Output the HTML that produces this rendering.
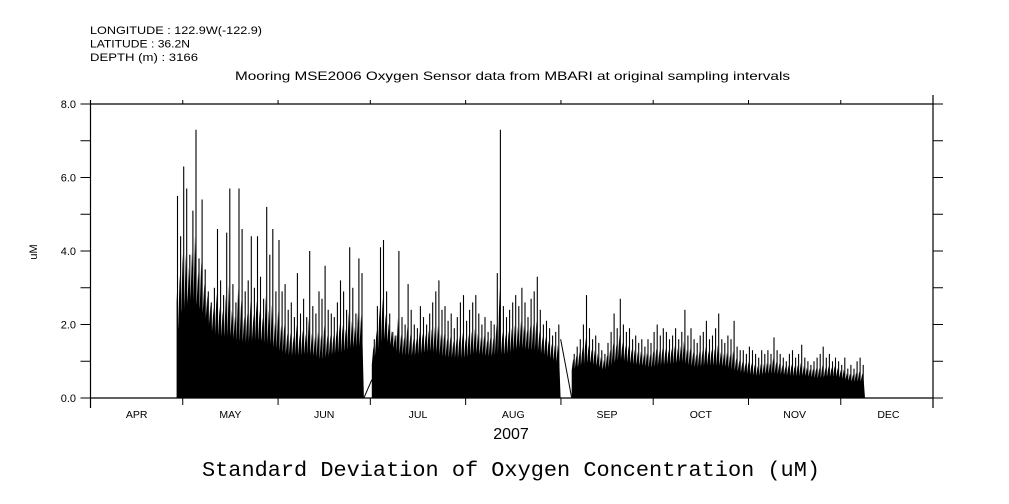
<!DOCTYPE html>
<html><head><meta charset="utf-8"><style>
html,body{margin:0;padding:0;background:#fff;}
svg{display:block;}
text{font-family:"Liberation Sans",sans-serif;fill:#000;}
</style></head><body>
<svg id="chart" width="1009" height="504" viewBox="0 0 1009 504" xmlns="http://www.w3.org/2000/svg">
<rect x="0" y="0" width="1009" height="504" fill="#fff"/>
<g font-size="11">
<text x="90" y="34" textLength="172" lengthAdjust="spacingAndGlyphs">LONGITUDE : 122.9W(-122.9)</text>
<text x="90" y="47.5" textLength="100" lengthAdjust="spacingAndGlyphs">LATITUDE : 36.2N</text>
<text x="90" y="61" textLength="108" lengthAdjust="spacingAndGlyphs">DEPTH (m) : 3166</text>
</g>
<text x="235" y="80" font-size="12" textLength="555" lengthAdjust="spacingAndGlyphs">Mooring MSE2006 Oxygen Sensor data from MBARI at original sampling intervals</text>
<text x="0" y="0" font-size="11" text-anchor="middle" transform="translate(37,252) rotate(-90)">uM</text>
<text x="511" y="439" font-size="16" text-anchor="middle">2007</text>
<text x="511" y="476" font-size="21.5" text-anchor="middle" style="font-family:'Liberation Mono',monospace" textLength="618" lengthAdjust="spacingAndGlyphs">Standard Deviation of Oxygen Concentration (uM)</text>
<g id="plot"></g>
<g id="axes"></g>
</svg>
<script>
// y ticks
const yTicks = [0,1,2,3,4,5,6,7,8];
const yLabels = ["0.0","","2.0","","4.0","","6.0","","8.0"];
// months (day offset from Apr 1)
const monthNames = ["APR","MAY","JUN","JUL","AUG","SEP","OCT","NOV","DEC"];
const monthStarts = [0,30,61,91,122,153,183,214,244,275];
// daily peak values, starting at day 28 (Apr 29); null = gap
const startDay = 28;
const peak = [
5.5,4.4,6.3,
5.7,3.9,5.1,7.3,3.8,5.4,3.5,2.9,2.6,3.0,4.6,3.2,2.8,4.5,5.7,3.1,2.6,5.7,4.6,2.9,3.2,4.4,3.0,4.4,3.3,2.7,5.2,3.9,4.6,2.9,
4.3,2.9,3.1,2.4,2.6,2.2,3.4,2.3,2.7,2.2,4.0,2.5,2.3,2.9,2.7,3.6,2.4,2.3,2.2,2.6,3.2,2.9,2.4,4.1,3.0,2.3,3.8,3.4,null,null,null,
1.6,2.5,4.1,4.3,2.9,2.3,1.8,1.7,4.0,2.2,2.0,3.1,2.4,2.0,1.9,2.5,2.2,2.0,2.3,2.6,2.9,3.2,2.4,2.5,2.1,2.3,1.9,2.2,2.6,2.8,
2.1,2.4,2.6,2.8,2.3,2.0,2.2,1.8,2.1,2.0,3.4,7.3,2.5,2.2,2.4,2.6,2.8,2.5,3.0,2.6,2.2,2.7,2.9,3.3,2.4,2.0,2.1,1.9,1.7,1.8,2.0,
null,null,null,null,
1.2,1.4,1.6,2.0,2.8,1.9,1.6,1.7,1.5,1.3,1.2,1.5,1.8,2.3,1.9,2.7,2.0,1.8,1.9,1.6,1.7,1.5,1.6,1.4,1.6,1.5,
1.8,2.0,1.7,1.9,1.8,1.6,1.7,1.9,1.6,1.8,2.4,1.7,1.9,1.6,1.5,1.7,1.8,2.1,1.6,1.7,1.9,2.3,1.6,1.5,1.7,1.6,2.1,1.4,1.3,1.3,
1.2,1.4,1.3,1.2,1.1,1.3,1.2,1.3,1.2,1.65,1.3,1.2,1.1,1.0,1.2,1.3,1.1,1.2,1.45,1.1,1.0,0.9,1.0,1.1,1.2,1.4,1.1,1.2,1.0,1.1,
1.0,0.9,1.1,0.8,0.9,0.8,1.0,1.1,0.9
];
// dense band envelope (typical upper level)
const bandDays = [28,29,33,37,40,45,50,55,60,65,70,75,80,85,88.9,91.5,95,100,105,110,115,120,125,130,135,140,145,150,152.9,156.5,162,167,172,177,182,187,192,197,202,207,212,217,222,227,232,237,242,247,251.9];
const bandVals = [2.0,3.0,3.6,3.0,2.3,2.2,2.0,2.1,1.8,1.5,1.6,1.4,1.6,1.8,1.9,1.2,2.2,1.6,1.5,1.7,1.5,1.4,1.6,1.5,1.6,1.8,1.7,1.4,1.2,1.0,1.3,1.0,1.4,1.2,1.1,1.2,1.3,1.1,1.2,1.1,0.9,0.8,0.9,0.8,0.8,0.7,0.8,0.6,0.6];

const X0=90.5, X1=933, Y0=398, Y1=104;
const totalDays = 274;
const xs = d => X0 + d*(X1-X0)/totalDays;
const ys = v => Y0 - v*(Y0-Y1)/8;
const NS="http://www.w3.org/2000/svg";
const plot=document.getElementById('plot'), axes=document.getElementById('axes');
function mk(tag, attrs, parent){const e=document.createElementNS(NS,tag);for(const k in attrs)e.setAttribute(k,attrs[k]);parent.appendChild(e);return e;}

function hasGap(a,b){
  for(let d=Math.ceil(a);d<b;d++){const i=d-startDay;if(i>=0&&i<peak.length&&peak[i]===null)return true;}
  return false;
}
let seg=[];
const segs=[];
for(let i=0;i<bandDays.length;i++){
  if(i>0 && hasGap(bandDays[i-1],bandDays[i])){segs.push(seg);seg=[];}
  seg.push(i);
}
segs.push(seg);
function bandAt(d){
  for(let i=1;i<bandDays.length;i++){if(d<=bandDays[i]){const t=(d-bandDays[i-1])/(bandDays[i]-bandDays[i-1]);return bandVals[i-1]+t*(bandVals[i]-bandVals[i-1]);}}
  return bandVals[bandVals.length-1];
}
// band with jagged top: blend envelope with daily peak
segs.forEach(s=>{
  const dA=bandDays[s[0]], dB=bandDays[s[s.length-1]];
  let d='M'+xs(dA).toFixed(1)+','+Y0;
  for(let t=dA;t<=dB+0.001;t+=0.5){
    const idx=Math.floor(t)-startDay;
    const pv=(idx>=0&&idx<peak.length&&peak[idx]!==null)?peak[idx]:bandAt(t);
    const b=bandAt(t);
    const v=(Math.round(t*2)%2===0)?(0.75*b+0.25*pv):0.75*b;
    d+=' L'+xs(t).toFixed(1)+','+ys(v).toFixed(1);
  }
  d+=' L'+xs(dB).toFixed(1)+','+Y0+' Z';
  const p=mk('path',{d:d,fill:'#000'},plot);
  
  
});
// spikes
peak.forEach((v,i)=>{
  if(v===null) return;
  const d=startDay+i;
  const x=xs(d+0.3);
  const l=mk('line',{x1:x.toFixed(1),x2:x.toFixed(1),y1:Y0,y2:ys(v).toFixed(1),stroke:'#000','stroke-width':1.1},plot);
  
  
});
// thin connector lines through gaps
const gapLines=[[88.9,0,91.5,0.5],[152.9,1.6,156.5,0]];
gapLines.forEach(g=>{
  const l=mk('line',{x1:xs(g[0]),y1:ys(g[1]),x2:xs(g[2]),y2:ys(g[3]),stroke:'#000','stroke-width':1},plot);
  
  
});

// frame
const fr=[[X0,Y1,X1,Y1],[X0,Y0,X1,Y0],[X0,Y1-4,X0,Y0+10],[X1,Y1-9,X1,Y0+10]];
fr.forEach(a=>{const l=mk('line',{x1:a[0],y1:a[1],x2:a[2],y2:a[3],stroke:'#000','stroke-width':1.2},axes);
  
  });
yTicks.forEach((t,i)=>{
  const y=ys(t);
  const a=mk('line',{x1:X0-10,x2:X0,y1:y,y2:y,stroke:'#000'},axes);
  
  
  const b=mk('line',{x1:X1,x2:X1+10,y1:y,y2:y,stroke:'#000'},axes);
  
  
  if(yLabels[i]){
    const tx=mk('text',{x:76,y:y+4,'font-size':11,'text-anchor':'end'},axes);
    tx.textContent=yLabels[i];
    
    
  }
});
monthStarts.forEach((d,i)=>{
  const x=xs(d);
  if(i>0 && i<monthStarts.length-1){
    const a=mk('line',{x1:x,x2:x,y1:Y1-4,y2:Y1,stroke:'#000'},axes);
    
    
    const b=mk('line',{x1:x,x2:x,y1:Y0,y2:Y0+7,stroke:'#000'},axes);
    
    
  }
  if(i<monthNames.length){
    const xm=xs((d+monthStarts[i+1])/2);
    const t=mk('text',{x:xm,y:418,'font-size':10.5,'text-anchor':'middle'},axes);
    t.textContent=monthNames[i];
    
    
  }
});
</script>
</body></html>
